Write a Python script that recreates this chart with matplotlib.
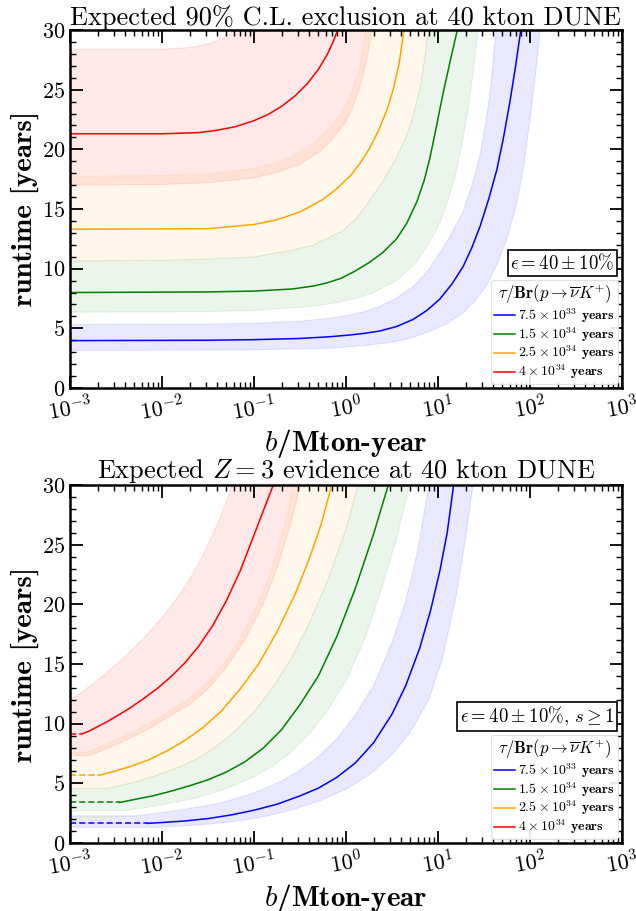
import numpy as np
import matplotlib
matplotlib.use('Agg')
import matplotlib.pyplot as plt
from matplotlib.ticker import LogLocator, MultipleLocator, NullFormatter

plt.rcParams['mathtext.fontset'] = 'cm'
plt.rcParams['font.family'] = 'cmr10'
plt.rcParams['axes.unicode_minus'] = False
plt.rcParams['axes.formatter.use_mathtext'] = True

# ---- data: log10(b / Mton-year) and runtime [years] ----
lifetimes = [r'$\mathbf{7.5\times10^{33}}$ years', r'$\mathbf{1.5\times10^{34}}$ years',
             r'$\mathbf{2.5\times10^{34}}$ years', r'$\mathbf{4\times10^{34}}$ years']
colors = ['blue', 'green', 'orange', 'red']

# top panel: 90% C.L. exclusion (line, upper edge of band, lower edge of band)
excl_blue_L = [-3, -1.5, -1.0, -0.5, -0.17, 0.04, 0.2, 0.37, 0.55, 0.73, 0.88, 1.02, 1.15, 1.275,
               1.37, 1.46, 1.55, 1.64, 1.71, 1.78, 1.84, 1.90]
excl_blue_t = [3.97, 4.0, 4.05, 4.15, 4.3, 4.44, 4.58, 4.78, 5.15, 5.75, 6.5, 7.45, 8.7, 10.2,
               11.8, 13.6, 15.8, 18.3, 20.9, 23.9, 26.8, 30]
excl_blue_hi_L = [-3, -1.5, -1.0, -0.5, -0.17, 0.04, 0.2, 0.37, 0.55, 0.73, 0.88, 1.02, 1.15, 1.275,
                  1.37, 1.46, 1.52, 1.57, 1.63]
excl_blue_hi_t = [5.33, 5.36, 5.42, 5.6, 5.85, 6.1, 6.4, 6.85, 7.55, 8.5, 9.75, 11.3, 13.0, 14.8,
                  17.0, 19.6, 22.3, 25.0, 30]
excl_blue_lo_L = [-3, -1.0, -0.17, 0.2, 0.55, 0.75, 0.91, 1.1, 1.275, 1.4, 1.53, 1.65, 1.75, 1.85,
                  1.93, 2.0, 2.06, 2.11]
excl_blue_lo_t = [3.15, 3.2, 3.33, 3.55, 3.9, 4.3, 4.75, 5.4, 6.3, 7.3, 8.6, 10.5, 12.5, 15.3,
                  18.5, 22.5, 26.3, 30]

excl_green_L = [-3, -1.5, -1.0, -0.58, -0.35, -0.21, -0.05, 0.1, 0.25, 0.4, 0.55, 0.66, 0.77, 0.85,
                0.91, 0.98, 1.05, 1.13, 1.21]
excl_green_t = [8.0, 8.05, 8.12, 8.3, 8.55, 8.8, 9.2, 9.8, 10.5, 11.35, 12.5, 13.8, 15.6, 17.4,
                19.2, 21.8, 24.5, 27.3, 30]
excl_green_hi_L = [-3, -2, -1.5, -1.0, -0.58, -0.35, -0.2, -0.05, 0.1, 0.25, 0.4, 0.55, 0.65, 0.73,
                   0.8, 0.85, 0.895]
excl_green_hi_t = [10.65, 10.7, 10.8, 10.98, 11.55, 12.0, 12.55, 13.1, 14.1, 15.6, 17.3, 19.3, 21.0,
                   22.8, 25.0, 27.3, 30]
excl_green_lo_L = [-3, -1.5, -1.0, -0.5, -0.17, 0.1, 0.3, 0.55, 0.75, 0.91, 1.03, 1.13, 1.21, 1.275,
                   1.33, 1.38, 1.44]
excl_green_lo_t = [6.35, 6.4, 6.5, 6.75, 7.05, 7.5, 8.0, 9.0, 10.4, 12.2, 14.0, 16.2, 18.5, 21.0,
                   23.5, 26.3, 30]

excl_orange_L = [-3, -1.5, -1.0, -0.75, -0.5, -0.25, -0.1, 0.05, 0.15, 0.25, 0.35, 0.45, 0.52, 0.58, 0.63]
excl_orange_t = [13.3, 13.35, 13.7, 14.1, 14.75, 15.8, 16.7, 17.8, 18.8, 20.0, 21.5, 23.4, 25.2, 27.3, 30]
excl_orange_hi_L = [-3, -2, -1.5, -1.0, -0.75, -0.5, -0.35, -0.2, -0.05, 0.05, 0.13, 0.18, 0.21]
excl_orange_hi_t = [17.75, 17.8, 17.95, 18.4, 18.9, 19.7, 20.5, 21.6, 23.0, 24.5, 26.3, 28.0, 30]
excl_orange_lo_L = excl_green_hi_L
excl_orange_lo_t = excl_green_hi_t

excl_red_L = [-3, -2, -1.6, -1.4, -1.2, -1.0, -0.85, -0.7, -0.55, -0.42, -0.3, -0.2, -0.14, -0.09]
excl_red_t = [21.3, 21.3, 21.4, 21.6, 21.9, 22.4, 22.9, 23.6, 24.5, 25.5, 26.7, 28.0, 29.0, 30]
excl_red_hi_L = [-3, -2, -1.75, -1.6, -1.45, -1.32, -1.2]
excl_red_hi_t = [28.4, 28.4, 28.5, 28.65, 28.95, 29.4, 30]
excl_red_lo_L = [-3, -2, -1.5, -1.0, -0.75, -0.5, -0.3, -0.15, 0.0, 0.1, 0.18, 0.24, 0.28]
excl_red_lo_t = [17.0, 17.05, 17.2, 17.6, 18.05, 18.75, 19.7, 20.8, 22.3, 24.0, 26.0, 28.0, 30]

# bottom panel: Z = 3 evidence (first segment is the s >= 1 floor, drawn dashed)
evid_blue_L = [-3, -2.15, -2.0, -1.75, -1.5, -1.25, -1.0, -0.75, -0.5, -0.3, -0.1, 0.1, 0.3, 0.5,
               0.65, 0.8, 0.92, 1.02, 1.1, 1.17]
evid_blue_t = [1.65, 1.65, 1.72, 1.85, 2.05, 2.35, 2.75, 3.25, 3.95, 4.6, 5.5, 6.7, 8.4, 10.8,
               13.2, 16.3, 19.5, 22.8, 26.0, 30]
evid_blue_hi_L = [-3, -2.3, -2.1, -1.9, -1.7, -1.5, -1.3, -1.1, -0.9, -0.7, -0.5, -0.3, -0.1, 0.1,
                  0.3, 0.5, 0.65, 0.78, 0.9]
evid_blue_hi_t = [2.28, 2.28, 2.45, 2.65, 2.9, 3.15, 3.5, 3.95, 4.5, 5.2, 6.1, 7.25, 8.75, 10.7,
                  13.2, 16.8, 20.3, 24.5, 30]
evid_blue_lo_L = [-3, -2.05, -1.8, -1.5, -1.2, -0.9, -0.6, -0.3, 0.0, 0.25, 0.5, 0.7, 0.9, 1.05,
                  1.2, 1.3, 1.38]
evid_blue_lo_t = [1.32, 1.32, 1.42, 1.58, 1.82, 2.2, 2.75, 3.5, 4.5, 5.7, 7.4, 9.3, 12.0, 15.5,
                  20.8, 25.5, 30]

evid_green_L = [-3, -2.46, -2.3, -2.1, -1.9, -1.7, -1.5, -1.3, -1.1, -0.9, -0.7, -0.5, -0.3, -0.1,
                0.1, 0.3, 0.46]
evid_green_t = [3.4, 3.4, 3.65, 3.95, 4.35, 4.8, 5.3, 5.95, 6.8, 7.95, 9.5, 11.6, 14.0, 17.3,
                21.3, 25.9, 30]
evid_green_hi_L = [-3, -2.6, -2.45, -2.25, -2.05, -1.85, -1.62, -1.4, -1.2, -1.0, -0.8, -0.6, -0.4,
                   -0.2, 0.0, 0.13]
evid_green_hi_t = [4.57, 4.57, 4.82, 5.2, 5.7, 6.25, 7.05, 8.15, 9.4, 11.0, 13.0, 15.4, 18.4,
                   22.0, 26.3, 30]
evid_green_lo_L = [-3, -2.4, -2.2, -2.0, -1.8, -1.6, -1.4, -1.2, -1.0, -0.8, -0.6, -0.4, -0.2, 0.0,
                   0.2, 0.4, 0.55, 0.69]
evid_green_lo_t = [2.72, 2.72, 2.95, 3.2, 3.5, 3.85, 4.3, 4.85, 5.55, 6.45, 7.6, 9.15, 11.1, 13.6,
                   17.0, 21.6, 25.5, 30]

evid_orange_L = [-3, -2.67, -2.5, -2.35, -2.15, -1.95, -1.75, -1.55, -1.35, -1.15, -0.95, -0.75,
                 -0.55, -0.4, -0.27, -0.155]
evid_orange_t = [5.7, 5.7, 6.05, 6.4, 6.95, 7.7, 8.6, 9.7, 11.1, 12.9, 15.0, 17.7, 20.9, 23.8,
                 26.7, 30]
evid_orange_hi_L = [-3, -2.82, -2.65, -2.5, -2.3, -2.1, -1.9, -1.7, -1.5, -1.3, -1.1, -0.9, -0.78,
                    -0.66, -0.58]
evid_orange_hi_t = [7.6, 7.6, 8.15, 8.65, 9.35, 10.2, 11.15, 12.15, 13.5, 15.3, 17.8, 21.0, 23.6,
                    26.8, 30]
evid_orange_lo_L = evid_green_hi_L
evid_orange_lo_t = evid_green_hi_t

evid_red_L = [-3, -2.87, -2.8, -2.7, -2.6, -2.5, -2.35, -2.2, -2.05, -1.9, -1.75, -1.6, -1.45, -1.3,
              -1.15, -1.0, -0.9, -0.79]
evid_red_t = [9.14, 9.14, 9.35, 9.75, 10.15, 10.6, 11.3, 12.1, 12.95, 13.95, 15.1, 16.5, 18.2, 20.3,
              22.8, 25.8, 27.8, 30]
evid_red_hi_L = [-3, -2.95, -2.85, -2.75, -2.6, -2.45, -2.3, -2.15, -2.0, -1.85, -1.7, -1.55, -1.4,
                 -1.3, -1.24]
evid_red_hi_t = [12.2, 12.2, 12.75, 13.35, 14.3, 15.3, 16.4, 17.6, 18.9, 20.4, 22.1, 24.2, 26.7,
                 28.6, 30]
evid_red_lo_L = [-3, -2.8, -2.65, -2.5, -2.3, -2.1, -1.9, -1.7, -1.5, -1.3, -1.1, -0.9, -0.75,
                 -0.6, -0.5]
evid_red_lo_t = [7.3, 7.3, 7.75, 8.25, 8.95, 9.75, 10.7, 11.6, 12.9, 14.7, 17.0, 20.0, 23.0,
                 26.7, 30]

excl = {
    'blue': (excl_blue_L, excl_blue_t, excl_blue_hi_L, excl_blue_hi_t, excl_blue_lo_L, excl_blue_lo_t),
    'green': (excl_green_L, excl_green_t, excl_green_hi_L, excl_green_hi_t, excl_green_lo_L, excl_green_lo_t),
    'orange': (excl_orange_L, excl_orange_t, excl_orange_hi_L, excl_orange_hi_t, excl_orange_lo_L, excl_orange_lo_t),
    'red': (excl_red_L, excl_red_t, excl_red_hi_L, excl_red_hi_t, excl_red_lo_L, excl_red_lo_t),
}
evid = {
    'blue': (evid_blue_L, evid_blue_t, evid_blue_hi_L, evid_blue_hi_t, evid_blue_lo_L, evid_blue_lo_t),
    'green': (evid_green_L, evid_green_t, evid_green_hi_L, evid_green_hi_t, evid_green_lo_L, evid_green_lo_t),
    'orange': (evid_orange_L, evid_orange_t, evid_orange_hi_L, evid_orange_hi_t, evid_orange_lo_L, evid_orange_lo_t),
    'red': (evid_red_L, evid_red_t, evid_red_hi_L, evid_red_hi_t, evid_red_lo_L, evid_red_lo_t),
}
band_alpha = {'blue': 0.09, 'green': 0.08, 'orange': 0.08, 'red': 0.09}


def draw_panel(ax, data, dashed_floor):
    # bands: upper edge left to right, then lower edge back
    for c in ['red', 'orange', 'green', 'blue']:
        L, t, hL, ht, lL, lt = data[c]
        px = np.concatenate([10.0 ** np.array(hL), (10.0 ** np.array(lL))[::-1]])
        py = np.concatenate([ht, lt[::-1]])
        ax.fill(px, py, color=c, alpha=band_alpha[c], lw=0.8)
    for c, lab in zip(colors, lifetimes):
        L, t, hL, ht, lL, lt = data[c]
        x = 10.0 ** np.array(L)
        if dashed_floor:
            ax.plot(x[:2], t[:2], color=c, lw=1.1, ls=(0, (4, 2)))
            ax.plot(x[1:], t[1:], color=c, lw=1.1, label=lab)
        else:
            ax.plot(x, t, color=c, lw=1.1, label=lab)

    ax.set_xscale('log')
    ax.set_xlim(1e-3, 1e3)
    ax.set_ylim(0, 30)
    ax.xaxis.set_major_locator(LogLocator(base=10, numticks=10))
    ax.xaxis.set_minor_locator(LogLocator(base=10, subs=np.arange(2, 10), numticks=10))
    ax.xaxis.set_minor_formatter(NullFormatter())
    ax.yaxis.set_major_locator(MultipleLocator(5))
    ax.yaxis.set_minor_locator(MultipleLocator(1))
    ax.tick_params(which='both', direction='in', top=True, right=True, labelsize=16)
    ax.tick_params(which='major', length=9, width=1.3)
    ax.tick_params(which='minor', length=4.5, width=1.0)
    for lbl in ax.get_xticklabels():
        lbl.set_rotation(10)
    for s in ax.spines.values():
        s.set_linewidth(1.8)
    ax.set_xlabel(r'$b$/Mton-year', fontsize=21, family='cmb10', labelpad=2)
    ax.set_ylabel('runtime [years]', fontsize=21, family='cmb10', labelpad=2)

    leg = ax.legend(loc='lower right', bbox_to_anchor=(1.0, 0.0), borderaxespad=0.3,
                    prop={'family': 'cmb10', 'size': 10}, handlelength=1.5, handletextpad=0.25,
                    handleheight=0.5, labelspacing=0.0, borderpad=0.2, framealpha=0.9,
                    title=r'$\tau/\mathbf{Br}(p\rightarrow\overline{\nu}K^{+})$',
                    title_fontproperties={'family': 'cmb10', 'size': 12})
    leg.get_frame().set_edgecolor('#dddddd')
    leg.get_frame().set_linewidth(0.8)
    return leg


def add_box(ax, leg, text):
    # box sits just above the legend, right aligned with it
    fig.canvas.draw()
    bb = leg.get_window_extent().transformed(ax.transAxes.inverted())
    ax.text(0.986, bb.y1 + 0.02, text, transform=ax.transAxes, ha='right', va='bottom',
            fontsize=13.5, family='cmb10',
            bbox=dict(boxstyle='square,pad=0.15', fc='white', ec='black', lw=1.2))


fig = plt.figure(figsize=(6.36, 9.11), dpi=100)
ax1 = fig.add_axes([0.110, 0.5741, 0.868, 0.393])
ax2 = fig.add_axes([0.110, 0.0746, 0.868, 0.393])

leg1 = draw_panel(ax1, excl, False)
ax1.set_title(r'Expected 90% C.L. exclusion at 40 kton DUNE', fontsize=19, pad=2)

leg2 = draw_panel(ax2, evid, True)
ax2.set_title(r'Expected $Z = 3$ evidence at 40 kton DUNE', fontsize=19, pad=2)

add_box(ax1, leg1, r'$\epsilon = \mathbf{40} \pm \mathbf{10\%}$')
add_box(ax2, leg2, r'$\epsilon = \mathbf{40} \pm \mathbf{10\%},\, s \geq \mathbf{1}$')

fig.savefig('out.png', dpi=100)
